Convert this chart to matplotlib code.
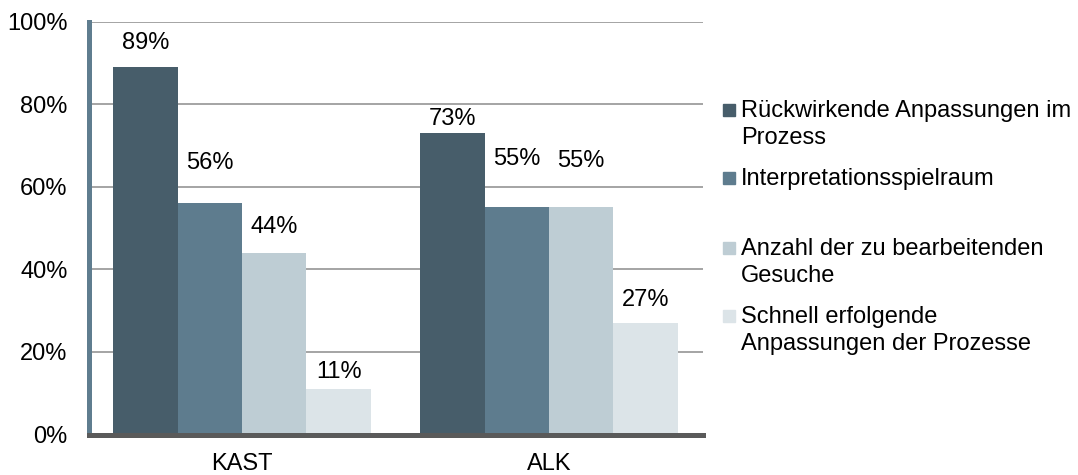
import matplotlib
matplotlib.use("Agg")
import matplotlib.pyplot as plt
import numpy as np
from matplotlib.patches import Rectangle

plt.rcParams['font.family'] = ['Liberation Sans', 'DejaVu Sans']

categories = ["KAST", "ALK"]
series_names = [
    "Rückwirkende Anpassungen im\nProzess",
    "Interpretationsspielraum",
    "Anzahl der zu bearbeitenden\nGesuche",
    "Schnell erfolgende\nAnpassungen der Prozesse",
]
ruckwirkende = [0.89, 0.73]
interpretation = [0.56, 0.55]
anzahl = [0.44, 0.55]
schnell = [0.11, 0.27]
values = [ruckwirkende, interpretation, anzahl, schnell]
value_labels = [["89%", "73%"], ["56%", "55%"], ["44%", "55%"], ["11%", "27%"]]
y_ticks = [0, 0.2, 0.4, 0.6, 0.8, 1.0]
y_tick_labels = ["0%", "20%", "40%", "60%", "80%", "100%"]

colors = ["#475D6A", "#5E7C8E", "#BECDD4", "#DCE4E8"]
# pixel offsets of data labels above bar tops (layout)
label_offsets = [[24, 14], [40, 48], [26, 46], [17, 23]]
legend_first_baseline = [117, 185, 255, 323]  # px from top (layout)

FS = 17
W, H = 1078, 475
fig = plt.figure(figsize=(W / 100, H / 100), dpi=100)
ax = fig.add_axes([88.5 / W, (H - 434.5) / H, 614 / W, 413 / H])

x = np.arange(len(categories))
bw = 0.21
for i, (vals, col) in enumerate(zip(values, colors)):
    xs = x + (i - 1.5) * bw
    bars = ax.bar(xs, vals, width=bw, color=col, zorder=2, linewidth=0)
    for j, b in enumerate(bars):
        ax.annotate(value_labels[i][j], (b.get_x() + b.get_width() / 2, b.get_height()),
                    xytext=(0, label_offsets[i][j]), textcoords='offset pixels',
                    ha='center', va='center', fontsize=FS, color='black')

ax.set_xlim(-0.5, 1.5)
ax.set_ylim(0, 1)
ax.set_yticks(y_ticks)
ax.set_yticklabels(y_tick_labels)
ax.set_xticks(x)
ax.set_xticklabels(categories)
ax.tick_params(axis='y', length=0, pad=15, labelsize=FS)
ax.tick_params(axis='x', length=0, pad=13, labelsize=FS)
ax.grid(axis='y', color='#8C8C8C', linewidth=1.1, zorder=0)
ax.set_axisbelow(True)
for s in ['top', 'right']:
    ax.spines[s].set_visible(False)
ax.spines['left'].set_color('#5F7D8F')
ax.spines['left'].set_linewidth(3.6)
ax.spines['bottom'].set_color('#5A5A5A')
ax.spines['bottom'].set_linewidth(3.6)
ax.spines['bottom'].set_zorder(3)

# legend
line_h = 26.7
for i, (name, col) in enumerate(zip(series_names, colors)):
    base = legend_first_baseline[i]
    fig.patches.append(Rectangle((723 / W, (H - base + 1) / H), 12 / W, 12 / H,
                                 transform=fig.transFigure, color=col))
    for k, line in enumerate(name.split("\n")):
        fig.text(741 / W, (H - base - k * line_h) / H, line, fontsize=FS,
                 ha='left', va='baseline', color='black')

fig.savefig("out.png", dpi=100)
